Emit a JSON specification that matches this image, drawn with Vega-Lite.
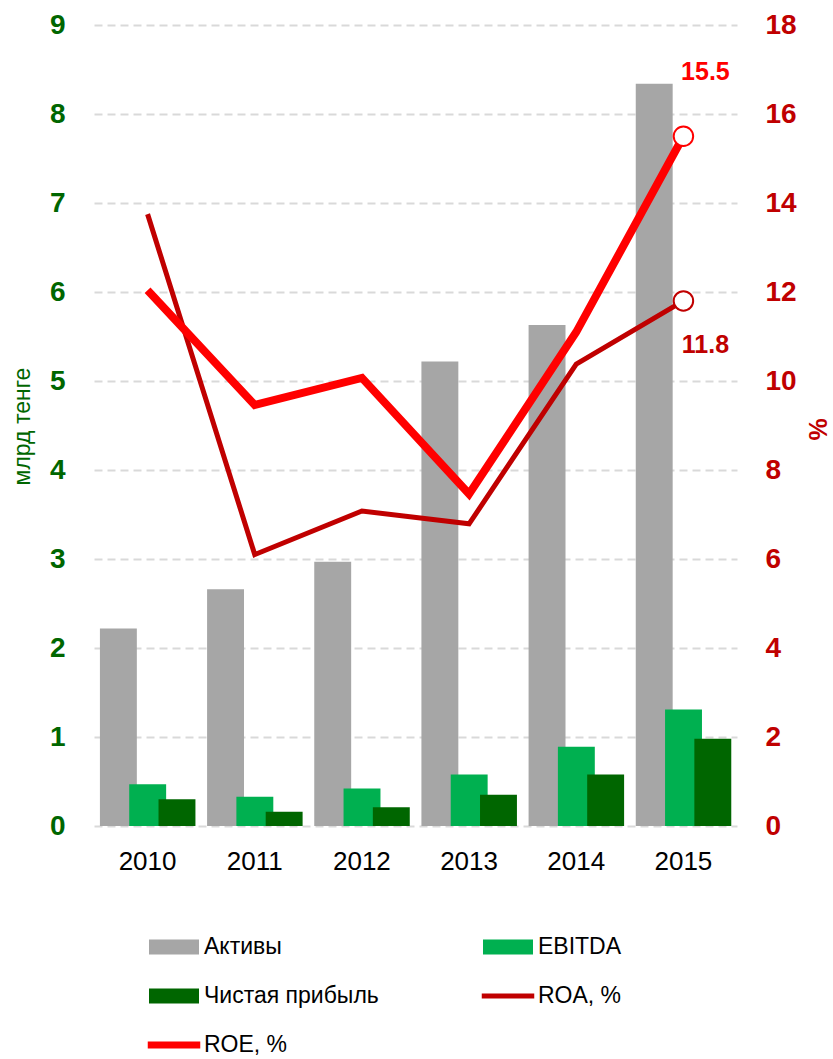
{
  "$schema": "https://vega.github.io/schema/vega-lite/v6.json",
  "width": 643,
  "height": 801,
  "autosize": {"type": "none"},
  "padding": {"left": 94, "top": 25, "right": 96, "bottom": 233},
  "background": "white",
  "config": {"view": {"stroke": null}, "font": "Liberation Sans"},
  "datasets": {
    "bars": [
      {"year": "2010", "series": "Активы", "value": 2.22},
      {"year": "2010", "series": "EBITDA", "value": 0.47},
      {"year": "2010", "series": "Чистая прибыль", "value": 0.30},
      {"year": "2011", "series": "Активы", "value": 2.66},
      {"year": "2011", "series": "EBITDA", "value": 0.33},
      {"year": "2011", "series": "Чистая прибыль", "value": 0.16},
      {"year": "2012", "series": "Активы", "value": 2.97},
      {"year": "2012", "series": "EBITDA", "value": 0.42},
      {"year": "2012", "series": "Чистая прибыль", "value": 0.21},
      {"year": "2013", "series": "Активы", "value": 5.22},
      {"year": "2013", "series": "EBITDA", "value": 0.58},
      {"year": "2013", "series": "Чистая прибыль", "value": 0.35},
      {"year": "2014", "series": "Активы", "value": 5.63},
      {"year": "2014", "series": "EBITDA", "value": 0.89},
      {"year": "2014", "series": "Чистая прибыль", "value": 0.58},
      {"year": "2015", "series": "Активы", "value": 8.34},
      {"year": "2015", "series": "EBITDA", "value": 1.31},
      {"year": "2015", "series": "Чистая прибыль", "value": 0.98}
    ],
    "lines": [
      {"year": "2010", "series": "ROA, %", "value": 13.75},
      {"year": "2011", "series": "ROA, %", "value": 6.1},
      {"year": "2012", "series": "ROA, %", "value": 7.08},
      {"year": "2013", "series": "ROA, %", "value": 6.79},
      {"year": "2014", "series": "ROA, %", "value": 10.38},
      {"year": "2015", "series": "ROA, %", "value": 11.8},
      {"year": "2010", "series": "ROE, %", "value": 12.04},
      {"year": "2011", "series": "ROE, %", "value": 9.46},
      {"year": "2012", "series": "ROE, %", "value": 10.07},
      {"year": "2013", "series": "ROE, %", "value": 7.46},
      {"year": "2014", "series": "ROE, %", "value": 11.1},
      {"year": "2015", "series": "ROE, %", "value": 15.5}
    ]
  },
  "layer": [
    {
      "data": {"name": "bars"},
      "mark": {"type": "bar", "width": {"band": 1.26}},
      "encoding": {
        "x": {
          "field": "year", "type": "nominal",
          "scale": {"paddingInner": 0.18, "paddingOuter": 0.09},
          "axis": {"title": null, "labelAngle": 0, "labelFontSize": 26, "labelColor": "black", "domain": false, "ticks": false, "labelPadding": 22}
        },
        "xOffset": {
          "field": "series", "type": "nominal",
          "sort": ["Активы", "EBITDA", "Чистая прибыль"],
          "scale": {"range": [7.7, 95.6], "paddingInner": 0, "paddingOuter": 0}
        },
        "y": {
          "field": "value", "type": "quantitative",
          "scale": {"domain": [0, 9], "nice": false},
          "axis": {
            "title": "млрд тенге", "values": [0, 1, 2, 3, 4, 5, 6, 7, 8, 9],
            "labelFontSize": 28, "labelFontWeight": "bold", "labelColor": "#006600", "labelPadding": 29,
            "domain": false, "ticks": false,
            "grid": true, "gridDash": [8, 5], "gridColor": "#D9D9D9", "gridWidth": 2,
            "titleFontSize": 23, "titleFontWeight": "normal", "titleColor": "#006600",
            "titleX": -72, "titleY": 401, "titleAngle": -90, "titleAlign": "center", "titleBaseline": "middle"
          }
        },
        "color": {
          "field": "series", "type": "nominal",
          "scale": {
            "domain": ["Активы", "EBITDA", "Чистая прибыль", "ROA, %", "ROE, %"],
            "range": ["#A6A6A6", "#00B050", "#006600", "#C00000", "#FF0000"]
          },
          "legend": {
            "title": null, "orient": "none", "legendX": 55, "legendY": 897,
            "direction": "horizontal", "columns": 2, "columnPadding": 102, "rowPadding": 12, "padding": 0,
            "symbolSize": 2500, "labelFontSize": 23, "labelColor": "black",
            "labelOffset": 5, "labelLimit": 400,
            "encode": {
              "symbols": {
                "update": {
                  "shape": {"signal": "datum.value === 'ROE, %' ? 'M-1.05,-0.14H1.05V0.14H-1.05Z' : (datum.value === 'ROA, %' ? 'M-1.05,-0.1H1.05V0.1H-1.05Z' : 'M-1,-0.3H1V0.3H-1Z')"},
                  "fill": {"scale": "color", "field": "value"},
                  "strokeWidth": {"value": 0},
                  "opacity": {"value": 1}
                }
              }
            }
          }
        }
      }
    },
    {
      "data": {"name": "lines"},
      "encoding": {
        "x": {"field": "year", "type": "nominal"},
        "y": {
          "field": "value", "type": "quantitative",
          "scale": {"domain": [0, 18], "nice": false},
          "axis": {
            "orient": "right", "title": "%", "values": [0, 2, 4, 6, 8, 10, 12, 14, 16, 18],
            "labelFontSize": 28, "labelFontWeight": "bold", "labelColor": "#C00000", "labelPadding": 28,
            "domain": false, "ticks": false, "grid": false,
            "titleFontSize": 25, "titleFontWeight": "bold", "titleColor": "#C00000",
            "titleX": 81, "titleY": 404, "titleAngle": -90, "titleAlign": "center", "titleBaseline": "middle"
          }
        },
        "color": {"field": "series", "type": "nominal"}
      },
      "layer": [
        {"transform": [{"filter": "datum.series === 'ROA, %'"}], "mark": {"type": "line", "strokeWidth": 5}},
        {"transform": [{"filter": "datum.series === 'ROE, %'"}], "mark": {"type": "line", "strokeWidth": 8}},
        {
          "transform": [{"filter": "datum.year === '2015'"}],
          "mark": {"type": "point", "filled": false, "fill": "white", "fillOpacity": 1, "opacity": 1, "size": 380, "strokeWidth": 2}
        },
        {
          "transform": [{"filter": "datum.year === '2015' && datum.series === 'ROE, %'"}],
          "mark": {"type": "text", "dx": 22, "dy": -64, "fontSize": 25, "fontWeight": "bold"},
          "encoding": {"text": {"field": "value", "type": "quantitative", "format": ".1f"}}
        },
        {
          "transform": [{"filter": "datum.year === '2015' && datum.series === 'ROA, %'"}],
          "mark": {"type": "text", "dx": 22, "dy": 44, "fontSize": 25, "fontWeight": "bold"},
          "encoding": {"text": {"field": "value", "type": "quantitative", "format": ".1f"}}
        }
      ]
    }
  ],
  "resolve": {"scale": {"y": "independent"}}
}
